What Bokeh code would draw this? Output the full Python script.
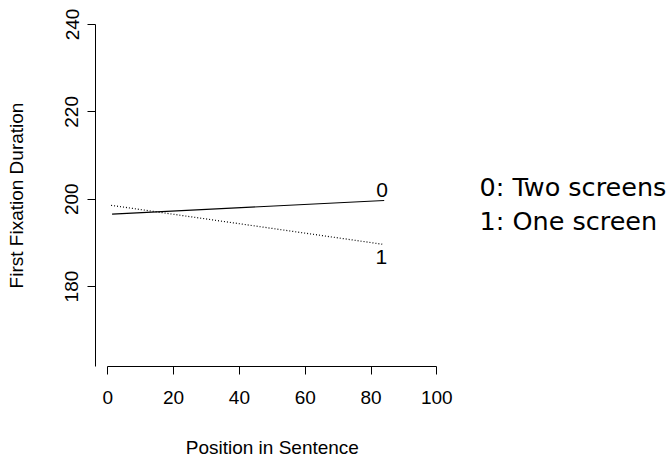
from bokeh.plotting import figure
from bokeh.layouts import column
from bokeh.models import ColumnDataSource, FixedTicker, Range1d, Label
from bokeh.core.properties import value
from bokeh.embed import file_html
from bokeh.resources import INLINE

# Data
conditions = ["0", "1"]
legend_labels = ["0: Two screens", "1: One screen"]
x_start = [1.3, 1.0]
x_end = [84.0, 83.4]
y_start = [196.6, 198.6]
y_end = [199.7, 189.7]
x_ticks = [0, 20, 40, 60, 80, 100]
y_ticks = [180, 200, 220, 240]
x_title = "Position in Sentence"
y_title = "First Fixation Duration"

p = figure(width=667, height=420, output_backend="svg", toolbar_location=None,
           x_range=Range1d(-3.74, 170.1), y_range=Range1d(161.7, 240),
           min_border_left=95, min_border_right=0, min_border_top=24, min_border_bottom=54)
p.outline_line_color = None
p.xgrid.visible = False
p.ygrid.visible = False
p.background_fill_color = "white"
p.border_fill_color = "white"

# Lines
p.line([x_start[0], x_end[0]], [y_start[0], y_end[0]], line_color="black", line_width=1.2)
p.line([x_start[1], x_end[1]], [y_start[1], y_end[1]], line_color="black", line_width=1.2,
       line_dash="1 2")

# End labels
src0 = ColumnDataSource(dict(x=[x_end[0]], y=[y_end[0]], t=[conditions[0]]))
src1 = ColumnDataSource(dict(x=[x_end[1]], y=[y_end[1]], t=[conditions[1]]))
p.text(x="x", y="y", text="t", source=src0, text_align="center", text_baseline="bottom",
       x_offset=-2, y_offset=-4, text_font=value("Liberation Sans"), text_font_size="21px",
       text_color="black")
p.text(x="x", y="y", text="t", source=src1, text_align="center", text_baseline="top",
       x_offset=-1, y_offset=6, text_font=value("Liberation Sans"), text_font_size="21px",
       text_color="black")

# Legend text (screen units relative to the plot frame)
for i, lab in enumerate(legend_labels):
    p.add_layout(Label(x=384, y=180 - i * 34, x_units="screen", y_units="screen",
                       text=lab, text_font="DejaVu Sans", text_font_size="25.5px",
                       text_baseline="alphabetic", text_color="black"))

# Axes
xa = p.xaxis[0]
xa.bounds = (x_ticks[0], x_ticks[-1])
xa.ticker = FixedTicker(ticks=x_ticks)
xa.minor_tick_line_color = None
xa.major_tick_in = 0
xa.major_tick_out = 8
xa.axis_line_color = "black"
xa.major_tick_line_color = "black"
xa.major_label_text_font = "Liberation Sans"
xa.major_label_text_font_size = "19px"
xa.major_label_text_color = "black"
xa.major_label_standoff = 16

ya = p.yaxis[0]
ya.ticker = FixedTicker(ticks=y_ticks)
ya.minor_tick_line_color = None
ya.major_tick_in = 0
ya.major_tick_out = 8
ya.axis_line_color = "black"
ya.major_tick_line_color = "black"
ya.major_label_orientation = "vertical"
ya.major_label_text_font = "Liberation Sans"
ya.major_label_text_font_size = "19px"
ya.major_label_text_color = "black"
ya.major_label_standoff = 9
ya.axis_label = y_title
ya.axis_label_text_font = "Liberation Sans"
ya.axis_label_text_font_size = "19px"
ya.axis_label_text_font_style = "normal"
ya.axis_label_text_color = "black"
ya.axis_label_standoff = 36

# Strip under the plot carrying the x-axis title, sharing the x scale
r = figure(width=667, height=37, output_backend="svg", toolbar_location=None,
           x_axis_location=None, y_axis_location=None,
           x_range=p.x_range, y_range=Range1d(37, 0),
           min_border_left=95, min_border_right=0, min_border_top=0, min_border_bottom=0)
r.grid.visible = False
r.outline_line_color = None
r.background_fill_color = "white"
r.border_fill_color = "white"
tsrc = ColumnDataSource(dict(x=[(x_ticks[0] + x_ticks[-1]) / 2], y=[27], t=[x_title]))
r.text(x="x", y="y", text="t", source=tsrc, text_align="center", text_baseline="alphabetic",
       text_font=value("Liberation Sans"), text_font_size="19px", text_color="black")

layout = column(p, r, spacing=0)
open("out.html", "w").write(file_html(layout, INLINE))
